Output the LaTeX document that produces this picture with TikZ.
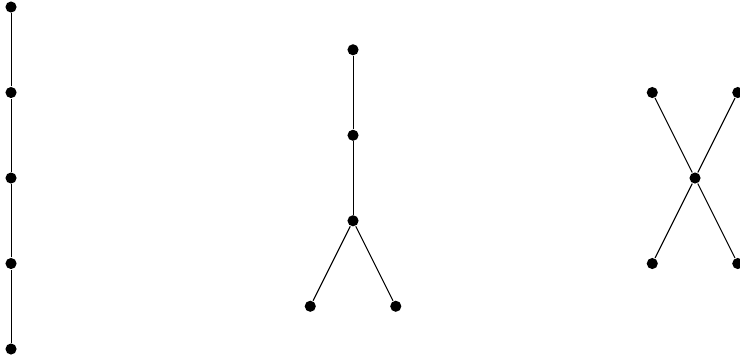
\documentclass[tikz,border=0pt]{standalone}
\usetikzlibrary{positioning}

\begin{document}
\begin{tikzpicture}[
  vtx/.style  ={circle, fill=black, inner sep=0pt, minimum size=0.13cm},
  edge/.style ={draw=black, line width=0.35pt},
]
\useasboundingbox (-0.129,-0.105) rectangle (8.526,4.082);

% ----- Path on five vertices -----
\foreach \i in {0,...,4}
  \node[vtx] (P\i) at (0,\i) {};
\foreach \i [evaluate=\i as \j using int(\i+1)] in {0,...,3}
  \draw[edge] (P\i) -- (P\j);

% ----- Fork -----
\node[vtx] (Ftop) at (4,3.5) {};
\node[vtx] (Fmid) at (4,2.5) {};
\node[vtx] (Fhub) at (4,1.5) {};
\node[vtx] (Fleft)  at (3.5,0.5) {};
\node[vtx] (Fright) at (4.5,0.5) {};

\draw[edge] (Ftop) -- (Fmid) -- (Fhub);
\draw[edge] (Fhub) -- (Fleft);
\draw[edge] (Fhub) -- (Fright);

% ----- Star -----
\node[vtx] (Sc)  at (8,2) {};
\node[vtx] (Snw) at (7.5,3) {};
\node[vtx] (Sne) at (8.5,3) {};
\node[vtx] (Ssw) at (7.5,1) {};
\node[vtx] (Sse) at (8.5,1) {};

\draw[edge] (Snw) -- (Sc) -- (Sse);
\draw[edge] (Sne) -- (Sc) -- (Ssw);

\end{tikzpicture}
\end{document}
